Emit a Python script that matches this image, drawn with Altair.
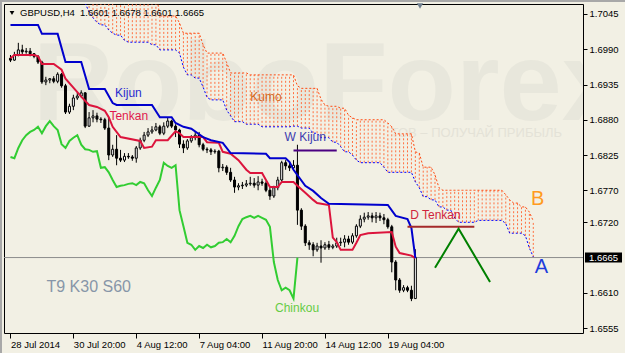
import altair as alt
import pandas as pd

# ------------------------------------------------------------------ data
symbol = "GBPUSD,H4"
header_ohlc = [1.6601, 1.6678, 1.6601, 1.6665]
current_price = 1.6665

# H4 candles, bar 0 = 28 Jul 2014 00:00 (open of each bar = previous close)
first_open = 1.6976
closes = [
    1.6973, 1.6981, 1.6989, 1.6986, 1.6987, 1.6983, 1.6979, 1.6970, 1.6939, 1.6942,
    1.6944, 1.6940, 1.6951, 1.6933, 1.6892, 1.6901, 1.6914, 1.6917, 1.6922, 1.6870,
    1.6883, 1.6886, 1.6881, 1.6880, 1.6867, 1.6825, 1.6834, 1.6820, 1.6817, 1.6823,
    1.6822, 1.6820, 1.6836, 1.6848, 1.6856, 1.6861, 1.6864, 1.6869, 1.6859, 1.6870,
    1.6878, 1.6870, 1.6864, 1.6842, 1.6836, 1.6847, 1.6852, 1.6856, 1.6841, 1.6834,
    1.6833, 1.6830, 1.6831, 1.6805, 1.6806, 1.6798, 1.6786, 1.6775, 1.6777, 1.6778,
    1.6780, 1.6781, 1.6778, 1.6783, 1.6781, 1.6770, 1.6761, 1.6774, 1.6786, 1.6813,
    1.6808, 1.6805, 1.6809, 1.6739, 1.6714, 1.6688, 1.6685, 1.6677, 1.6683, 1.6680,
    1.6685, 1.6681, 1.6683, 1.6688, 1.6689, 1.6694, 1.6689, 1.6699, 1.6714, 1.6725,
    1.6728, 1.6730, 1.6727, 1.6730, 1.6727, 1.6724, 1.6713, 1.6658, 1.6630, 1.6614,
    1.6618, 1.6614, 1.6601, 1.6665,
]
highs = [
    1.6981, 1.6986, 1.7000, 1.6997, 1.6992, 1.6992, 1.6984, 1.6981, 1.6972, 1.6947,
    1.6945, 1.6948, 1.6954, 1.6953, 1.6936, 1.6905, 1.6919, 1.6922, 1.6926, 1.6923,
    1.6892, 1.6895, 1.6891, 1.6884, 1.6883, 1.6884, 1.6841, 1.6856, 1.6833, 1.6828,
    1.6828, 1.6825, 1.6839, 1.6852, 1.6861, 1.6867, 1.6870, 1.6875, 1.6872, 1.6876,
    1.6883, 1.6880, 1.6873, 1.6866, 1.6848, 1.6850, 1.6856, 1.6861, 1.6861, 1.6844,
    1.6837, 1.6836, 1.6834, 1.6833, 1.6811, 1.6809, 1.6805, 1.6791, 1.6781, 1.6783,
    1.6786, 1.6791, 1.6789, 1.6792, 1.6788, 1.6784, 1.6775, 1.6777, 1.6791, 1.6816,
    1.6817, 1.6814, 1.6817, 1.6841, 1.6742, 1.6717, 1.6692, 1.6689, 1.6688, 1.6692,
    1.6689, 1.6691, 1.6686, 1.6696, 1.6696, 1.6700, 1.6699, 1.6703, 1.6717, 1.6731,
    1.6735, 1.6736, 1.6735, 1.6736, 1.6735, 1.6733, 1.6727, 1.6716, 1.6661, 1.6633,
    1.6622, 1.6621, 1.6621, 1.6678,
]
lows = [
    1.6970, 1.6972, 1.6979, 1.6981, 1.6983, 1.6979, 1.6976, 1.6967, 1.6936, 1.6934,
    1.6937, 1.6937, 1.6937, 1.6930, 1.6889, 1.6889, 1.6895, 1.6911, 1.6915, 1.6867,
    1.6869, 1.6876, 1.6876, 1.6875, 1.6864, 1.6817, 1.6822, 1.6809, 1.6814, 1.6814,
    1.6819, 1.6816, 1.6813, 1.6833, 1.6845, 1.6853, 1.6858, 1.6862, 1.6856, 1.6856,
    1.6867, 1.6867, 1.6853, 1.6836, 1.6828, 1.6833, 1.6844, 1.6848, 1.6837, 1.6831,
    1.6828, 1.6825, 1.6827, 1.6798, 1.6800, 1.6794, 1.6783, 1.6766, 1.6770, 1.6772,
    1.6775, 1.6777, 1.6774, 1.6770, 1.6777, 1.6767, 1.6755, 1.6758, 1.6770, 1.6784,
    1.6802, 1.6800, 1.6802, 1.6716, 1.6708, 1.6683, 1.6677, 1.6667, 1.6674, 1.6657,
    1.6677, 1.6677, 1.6678, 1.6680, 1.6683, 1.6681, 1.6685, 1.6686, 1.6696, 1.6711,
    1.6720, 1.6724, 1.6720, 1.6719, 1.6722, 1.6717, 1.6710, 1.6642, 1.6614, 1.6610,
    1.6611, 1.6611, 1.6597, 1.6601,
]

# Tenkan-sen (T9) and Kijun-sen (K30), vertices
tenkan_bar = [0, 1, 6, 7, 8, 11, 13, 14, 16, 18, 20, 22, 24, 25, 26, 28, 33, 34, 36, 37,
              40, 42, 43, 44, 49, 50, 53, 54, 56, 58, 60, 61, 64, 65, 66, 68, 69, 72, 73,
              75, 77, 78, 81, 82, 83, 84, 87, 88, 89, 91, 97, 98, 99, 102, 103]
tenkan_val = [1.6976, 1.6981, 1.6981, 1.6979, 1.6967, 1.6967, 1.6958, 1.6944, 1.6930, 1.6916,
              1.6903, 1.6900, 1.6894, 1.6884, 1.6869, 1.6853, 1.6847, 1.6836, 1.6838, 1.6848,
              1.6848, 1.6862, 1.6859, 1.6853, 1.6853, 1.6845, 1.6844, 1.6830, 1.6827, 1.6817,
              1.6802, 1.6797, 1.6797, 1.6786, 1.6775, 1.6775, 1.6783, 1.6783, 1.6777,
              1.6766, 1.6755, 1.6750, 1.6747, 1.6696, 1.6689, 1.6677, 1.6677, 1.6688, 1.6700,
              1.6703, 1.6705, 1.6682, 1.6672, 1.6668, 1.6664]
kijun_bar = [0, 7, 8, 12, 14, 18, 20, 24, 26, 27, 36, 38, 41, 42, 44, 46, 49, 51, 54, 56,
             65, 66, 70, 71, 72, 75, 77, 79, 81, 96, 98, 101, 102, 103]
kijun_val = [1.7028, 1.7028, 1.7014, 1.7014, 1.6970, 1.6970, 1.6928, 1.6928, 1.6906, 1.6903,
             1.6903, 1.6884, 1.6884, 1.6875, 1.6869, 1.6866, 1.6853, 1.6848, 1.6844, 1.6828,
             1.6827, 1.6820, 1.6820, 1.6814, 1.6802, 1.6777, 1.6769, 1.6758, 1.6749, 1.6747,
             1.6730, 1.6725, 1.6711, 1.6664]
chinkou_shift = 30   # Chinkou = close drawn 30 bars back

# Kumo (S60), one value per bar starting at bar 19 (values above 1.7061 are off-chart)
cloud_first_bar = 19
span_a = [
    1.7062, 1.7048, 1.7039, 1.7032, 1.7028, 1.7028, 1.7020, 1.7015, 1.7012, 1.7012,
    1.7004, 1.7001, 1.7001, 1.7001, 1.7001, 1.7001, 1.7001, 1.6997, 1.6997, 1.6989,
    1.6989, 1.6989, 1.6989, 1.6989, 1.6984, 1.6962, 1.6950, 1.6950, 1.6945, 1.6945,
    1.6931, 1.6915, 1.6911, 1.6911, 1.6911, 1.6911, 1.6895, 1.6886, 1.6877, 1.6877,
    1.6877, 1.6873, 1.6873, 1.6873, 1.6873, 1.6869, 1.6869, 1.6869, 1.6869, 1.6869,
    1.6869, 1.6869, 1.6869, 1.6870, 1.6870, 1.6867, 1.6867, 1.6867, 1.6859, 1.6859,
    1.6852, 1.6852, 1.6852, 1.6845, 1.6845, 1.6838, 1.6830, 1.6830, 1.6825, 1.6817,
    1.6813, 1.6813, 1.6813, 1.6813, 1.6813, 1.6813, 1.6806, 1.6798, 1.6798, 1.6798,
    1.6798, 1.6798, 1.6798, 1.6798, 1.6783, 1.6774, 1.6760, 1.6760, 1.6755, 1.6755,
    1.6744, 1.6744, 1.6739, 1.6739, 1.6727, 1.6720, 1.6720, 1.6720, 1.6720, 1.6720,
    1.6723, 1.6723, 1.6723, 1.6723, 1.6723, 1.6723, 1.6723, 1.6718, 1.6703, 1.6703,
    1.6703, 1.6703, 1.6699, 1.6680, 1.6666,
]
span_b = [
    1.7080, 1.7080, 1.7080, 1.7080, 1.7080, 1.7080, 1.7080, 1.7080, 1.7080, 1.7080,
    1.7080, 1.7080, 1.7080, 1.7080, 1.7080, 1.7080, 1.7080, 1.7080, 1.7080, 1.7042,
    1.7042, 1.7042, 1.7042, 1.7042, 1.7031, 1.7015, 1.7015, 1.7015, 1.7015, 1.7015,
    1.6997, 1.6984, 1.6984, 1.6984, 1.6984, 1.6984, 1.6969, 1.6953, 1.6953, 1.6953,
    1.6953, 1.6953, 1.6950, 1.6950, 1.6950, 1.6950, 1.6950, 1.6950, 1.6950, 1.6950,
    1.6950, 1.6950, 1.6950, 1.6950, 1.6933, 1.6929, 1.6929, 1.6929, 1.6929, 1.6929,
    1.6912, 1.6903, 1.6901, 1.6901, 1.6901, 1.6898, 1.6898, 1.6887, 1.6883, 1.6880,
    1.6880, 1.6880, 1.6880, 1.6880, 1.6880, 1.6880, 1.6880, 1.6875, 1.6869, 1.6858,
    1.6858, 1.6858, 1.6858, 1.6858, 1.6830, 1.6828, 1.6806, 1.6806, 1.6806, 1.6794,
    1.6774, 1.6770, 1.6770, 1.6770, 1.6770, 1.6770, 1.6770, 1.6770, 1.6770, 1.6770,
    1.6770, 1.6770, 1.6770, 1.6770, 1.6770, 1.6770, 1.6770, 1.6763, 1.6755, 1.6750,
    1.6750, 1.6744, 1.6744, 1.6736, 1.6722,
]

# hand-drawn levels and forecast
level_names = ["W Kijun", "D Tenkan"]
level_from = [72, 101]
level_to = [83, 118]
level_price = [1.6832, 1.6713]
forecast_bar = [108, 114, 122]
forecast_val = [1.6649, 1.6710, 1.6627]

# axes
time_ticks = [0, 16, 32, 48, 64, 80, 96]
time_labels = ["28 Jul 2014", "30 Jul 20:00", "4 Aug 12:00", "7 Aug 04:00",
               "11 Aug 20:00", "14 Aug 12:00", "19 Aug 04:00"]
price_ticks = [1.6555, 1.6610, 1.6720, 1.6770, 1.6825, 1.6880, 1.6935, 1.6990, 1.7045]

# ------------------------------------------------------------------ tables
n = len(closes)
candles = pd.DataFrame({"bar": list(range(n)), "open": [first_open] + closes[:-1],
                        "high": highs, "low": lows, "close": closes})
chinkou = pd.DataFrame({"bar": [i - chinkou_shift for i in range(chinkou_shift, n)],
                        "price": closes[chinkou_shift:]})
tenkan = pd.DataFrame({"bar": tenkan_bar, "price": tenkan_val})
kijun = pd.DataFrame({"bar": kijun_bar, "price": kijun_val})
cloud = pd.DataFrame({"bar": [cloud_first_bar + k for k in range(len(span_a))],
                      "a": span_a, "b": span_b})
levels = pd.DataFrame({"name": level_names, "b0": level_from, "b1": level_to, "price": level_price})
forecast = pd.DataFrame({"bar": forecast_bar, "price": forecast_val})

# ------------------------------------------------------------------ style
BG = "#F2F0E4"
FONT = "Liberation Sans"
XS = alt.Scale(domain=[-0.375, 144.375], nice=False, zero=False)
YS = alt.Scale(domain=[1.65473, 1.70606], nice=False, zero=False)

label_expr = " : ".join(f"datum.value == {b} ? '{t}'" for b, t in zip(time_ticks, time_labels)) + " : ''"
x_axis = alt.Axis(values=time_ticks, labelExpr=label_expr, title=None, grid=False, domain=False,
                  tickSize=5, tickColor="black", labelAlign="left", labelBaseline="top",
                  labelPadding=1, labelFont=FONT, labelFontSize=9.5, labelColor="black",
                  labelFlush=False, labelOverlap=False)
y_axis = alt.Axis(orient="right", values=price_ticks, format=".4f", title=None, grid=False,
                  domain=False, tickSize=4, tickColor="black", labelAlign="left",
                  labelBaseline="middle", labelPadding=2, labelFont=FONT, labelFontSize=9.5,
                  labelColor="black", labelFlush=False, labelOverlap=False)


def X(field):
    return alt.X(field, type="quantitative", scale=XS, axis=x_axis)


def Y(field):
    return alt.Y(field, type="quantitative", scale=YS, axis=y_axis)


def XD(v):
    return alt.X(datum=v, type="quantitative", scale=XS, axis=x_axis)


def YD(v):
    return alt.Y(datum=v, type="quantitative", scale=YS, axis=y_axis)


def label(text, bar, price, color, size, weight="normal"):
    return alt.Chart().mark_text(text=text, font=FONT, fontSize=size, color=color,
                                 fontWeight=weight, align="center", baseline="middle").encode(
        x=XD(bar), y=YD(price))


layers = []

# watermark (clipped to the plot area)
layers.append(alt.Chart().mark_text(text="RoboForex", font=FONT, fontSize=112, fontWeight="bold",
                                    color="#E8E7DC", align="left", baseline="alphabetic",
                                    clip=True).encode(x=alt.value(29), y=alt.value(116)))
layers.append(alt.Chart().mark_text(text="ТОВ – ПОЛУЧАЙ ПРИБЫЛЬ", font=FONT, fontSize=13,
                                    color="#E4E2D7", align="right", baseline="middle").encode(
    x=alt.value(558), y=alt.value(129)))

# kumo hatch and spans
layers.append(alt.Chart(cloud).mark_rule(color="#FF7040", strokeWidth=1, strokeDash=[2, 2],
                                         clip=True).encode(x=X("bar"), y=Y("a"), y2="b"))
layers.append(alt.Chart(cloud).mark_line(color="#FF4A10", strokeWidth=1, strokeDash=[2, 2],
                                         clip=True).encode(x=X("bar"), y=Y("b")))
layers.append(alt.Chart(cloud).mark_line(color="#0000FF", strokeWidth=1, strokeDash=[2, 2],
                                         clip=True).encode(x=X("bar"), y=Y("a")))

# current price line
layers.append(alt.Chart().mark_rule(color="#8C8C8C", strokeWidth=1).encode(y=YD(current_price)))

# chinkou
layers.append(alt.Chart(chinkou).mark_line(color="#32CD32", strokeWidth=2).encode(
    x=X("bar"), y=Y("price")))

# candles
layers.append(alt.Chart(candles).mark_rule(color="black", strokeWidth=1).encode(
    x=X("bar"), y=Y("low"), y2="high"))
layers.append(alt.Chart(candles).mark_bar(size=2, stroke="black", strokeWidth=1).encode(
    x=X("bar"), y=Y("open"), y2="close",
    fill=alt.condition("datum.close >= datum.open", alt.value("white"), alt.value("black"))))

# tenkan / kijun
layers.append(alt.Chart(tenkan).mark_line(color="#DC143C", strokeWidth=2).encode(
    x=X("bar"), y=Y("price")))
layers.append(alt.Chart(kijun).mark_line(color="#0000CD", strokeWidth=2).encode(
    x=X("bar"), y=Y("price")))

# levels and forecast
layers.append(alt.Chart(levels).mark_rule(strokeWidth=2).encode(
    x=X("b0"), x2="b1", y=Y("price"),
    color=alt.Color("name:N", scale=alt.Scale(domain=level_names, range=["#4B0082", "#A52A2A"]),
                    legend=None)))
layers.append(alt.Chart(forecast).mark_line(color="#008000", strokeWidth=2).encode(
    x=X("bar"), y=Y("price")))

# labels
layers += [
    label("Kijun", 30, 1.6922, "#2A2AD0", 12),
    label("Tenkan", 30.1, 1.6886, "#E0184C", 12),
    label("Kumo", 65, 1.6915, "#D2691E", 12),
    label("W Kijun", 75, 1.6853, "#3C3CB0", 12),
    label("D Tenkan", 108.1, 1.6731, "#D0243C", 12),
    label("Chinkou", 72.9, 1.6586, "#66CC44", 12),
    label("T9 K30 S60", 19.9, 1.6619, "#8796A8", 16),
    label("B", 134.1, 1.6756, "#FF9A20", 20),
    label("A", 135.1, 1.6650, "#1E3CDC", 20),
]

# current price box on the price scale
layers.append(alt.Chart().mark_rect(color="black", yOffset=-5, y2Offset=5, clip=False).encode(
    x=alt.value(581), x2=alt.value(618), y=YD(current_price),
    y2=alt.Y2(datum=current_price)))
layers.append(alt.Chart().mark_text(text=f"{current_price:.4f}", font=FONT, fontSize=9.5,
                                    color="white", align="left", baseline="middle",
                                    clip=False).encode(x=alt.value(585), y=YD(current_price)))

# header
layers.append(alt.Chart().mark_point(shape="triangle-down", filled=True, size=22, color="black",
                                     opacity=1, clip=False).encode(x=alt.value(8), y=alt.value(9)))
layers.append(alt.Chart().mark_text(text=symbol, font=FONT, fontSize=9.5, color="black",
                                    align="left", baseline="middle").encode(
    x=alt.value(16), y=alt.value(9)))
layers.append(alt.Chart().mark_text(text=" ".join(f"{v:.4f}" for v in header_ohlc), font=FONT,
                                    fontSize=9.5, color="black", align="left",
                                    baseline="middle").encode(x=alt.value(76), y=alt.value(9)))
# chart-shift marker
layers.append(alt.Chart().mark_point(shape="triangle-down", filled=True, size=40, color="#708090",
                                     opacity=1, clip=False).encode(x=alt.value(416), y=alt.value(2)))
# window edges
layers.append(alt.Chart().mark_rect(color="#A8A8A8", clip=False).encode(
    x=alt.value(-4), x2=alt.value(621), y=alt.value(-4), y2=alt.value(-2)))
layers.append(alt.Chart().mark_rect(color="#A8A8A8", clip=False).encode(
    x=alt.value(-4), x2=alt.value(-2), y=alt.value(-4), y2=alt.value(349)))

chart = alt.layer(*layers).properties(
    width=579, height=329, background=BG,
    padding={"left": 4, "top": 4, "right": 42, "bottom": 20},
    autosize=alt.AutoSizeParams(type="none"),
).configure_view(stroke="black", strokeWidth=1, fill=BG)

chart.save("out.html", embed_options={"renderer": "svg", "actions": False})
